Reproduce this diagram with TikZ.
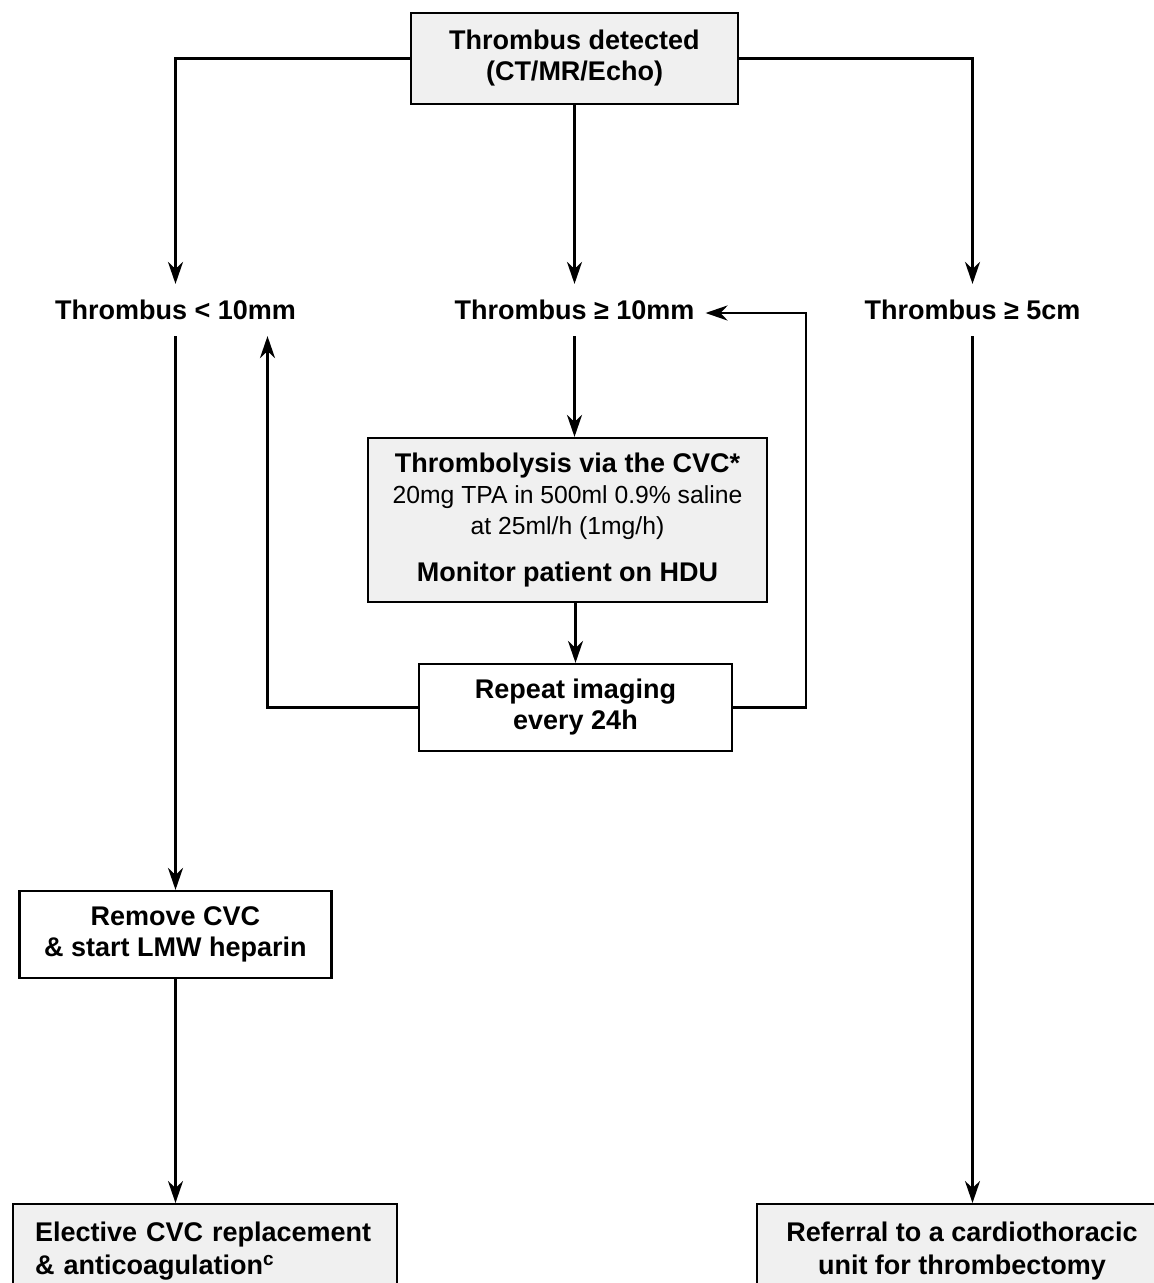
\documentclass[tikz,border=0pt]{standalone}
\usepackage{fontspec}
\setmainfont{Liberation Sans}
\usetikzlibrary{arrows.meta}
\definecolor{boxgray}{RGB}{240,240,240}
\begin{document}
\begin{tikzpicture}[x=1pt,y=-1pt, line width=2.2pt,
 arr/.style={line width=2.6pt, -{Stealth[length=22pt,width=15pt,inset=7pt]}},
 box/.style={draw, line width=2.2pt, align=center, font=\bfseries\fontsize{27}{31}\selectfont, inner sep=0pt},
 lbl/.style={font=\bfseries\fontsize{27}{31}\selectfont, text height=19.5pt, text depth=0pt, minimum height=50pt, inner xsep=10pt, inner ysep=0pt}]
\useasboundingbox (0,0) rectangle (1154,1283);
\clip (0,0) rectangle (1154,1283);
\fill[white] (0,0) rectangle (1154,1283);

\node[box, fill=boxgray, minimum width=327pt, minimum height=91pt] (top) at (574.5,58.5) {Thrombus detected\\(CT/MR/Echo)};

\node[lbl] (lt) at (175.5,310) {Thrombus < 10mm};
\node[lbl] (mid) at (574.5,310) {Thrombus ≥ 10mm};
\node[lbl] (rt) at (972.5,310) {Thrombus ≥ 5cm};

\node[box, fill=boxgray, minimum width=399pt, minimum height=164pt] (tb) at (567.5,520)
 {Thrombolysis via the CVC*\\
  {\mdseries\fontsize{24.7}{29}\selectfont 20mg TPA in 500ml 0.9\% saline}\\
  {\mdseries\fontsize{24.7}{29}\selectfont at 25ml/h (1mg/h)}\\[16pt]
  Monitor patient on HDU};

\node[box, minimum width=313pt, minimum height=87pt] (rep) at (575.5,707.5) {Repeat imaging\\every 24h};

\node[box, minimum width=312pt, minimum height=87pt] (rm) at (175.5,934.5) {Remove CVC\\\& start LMW heparin};

\node[box, fill=boxgray, anchor=north west, text width=340pt, align=left, inner xsep=22pt, inner ysep=18pt, font=\bfseries\fontsize{27}{33}\selectfont] (el) at (12,1203)
 {Elective CVC replacement\\\& anticoagulation\textsuperscript{c}};

\node[box, fill=boxgray, anchor=north, minimum width=410pt, inner ysep=18pt, font=\bfseries\fontsize{27}{33}\selectfont] (ref) at (962,1203)
 {Referral to a cardiothoracic\\unit for thrombectomy};

\draw[arr] (top.west) -| (lt.north);
\draw[arr] (top.south) -- (top.south |- mid.north);
\draw[arr] (top.east) -| (rt.north);
\draw[arr] (mid.south) -- (mid.south |- tb.north);
\draw[arr] (rep.north |- tb.south) -- (rep.north);
\draw[arr] (rep.west) -| ([xshift=92pt]lt.south);
\draw[arr] (rep.east) -- ++(73,0) |- ([yshift=-3pt]mid.east);
\draw[arr] (lt.south) -- (lt.south |- rm.north);
\draw[arr] (rm.south) -- (rm.south |- el.north);
\draw[arr] (rt.south) -- (rt.south |- ref.north);
\end{tikzpicture}
\end{document}
